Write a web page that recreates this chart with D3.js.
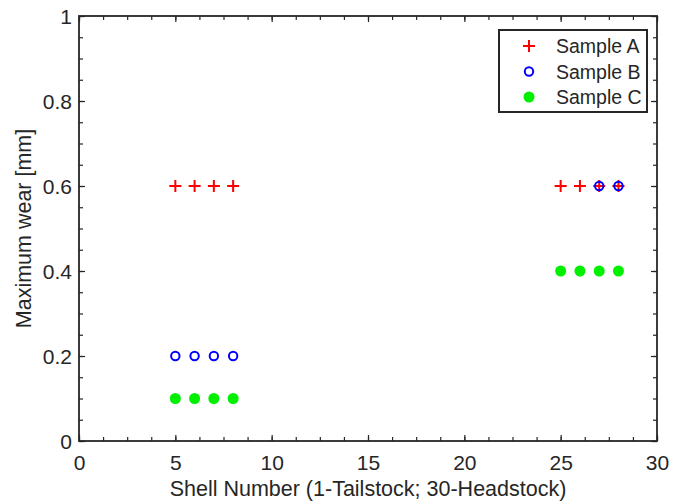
<!DOCTYPE html>
<html>
<head>
<meta charset="utf-8">
<script src="https://cdn.jsdelivr.net/npm/d3@7"></script>
<style>
  html, body { margin: 0; padding: 0; background: #fff; }
  svg { display: block; font-family: "Liberation Sans", Arial, sans-serif; }
</style>
</head>
<body>
<svg id="chart" width="673" height="501"></svg>
<script>
// Maximum wear per shell position for three samples
const shellsA = [5, 6, 7, 8, 25, 26, 27, 28];
const wearA   = [0.6, 0.6, 0.6, 0.6, 0.6, 0.6, 0.6, 0.6];
const shellsB = [5, 6, 7, 8, 27, 28];
const wearB   = [0.2, 0.2, 0.2, 0.2, 0.6, 0.6];
const shellsC = [5, 6, 7, 8, 25, 26, 27, 28];
const wearC   = [0.1, 0.1, 0.1, 0.1, 0.4, 0.4, 0.4, 0.4];

const xTicks = [0, 5, 10, 15, 20, 25, 30];
const yTicks = [0, 0.2, 0.4, 0.6, 0.8, 1];
const seriesNames = ["Sample A", "Sample B", "Sample C"];

const svg = d3.select("#chart");
const plotL = 79, plotR = 657, plotT = 16, plotB = 441;

const x = d3.scaleLinear().domain([0, 30]).range([plotL, plotR]);
const y = d3.scaleLinear().domain([0, 1]).range([plotB, plotT]);

const ink = "#262626";
const xMinor = d3.range(0, 30.001, 1.25);
const yMinor = d3.range(0, 1.001, 0.05);

// Inward ticks on all four sides
function tickAxis(axisFn, scale, values, size, fmt) {
  return axisFn(scale).tickValues(values).tickSizeInner(-size).tickSizeOuter(0).tickFormat(fmt);
}
const noLabel = () => "";

const gx = svg.append("g").attr("transform", `translate(0,${plotB})`)
  .call(tickAxis(d3.axisBottom, x, xTicks, 6, d3.format("d")));
svg.append("g").attr("transform", `translate(0,${plotB})`)
  .call(tickAxis(d3.axisBottom, x, xMinor, 4, noLabel));
svg.append("g").attr("transform", `translate(0,${plotT})`)
  .call(tickAxis(d3.axisTop, x, xTicks, 6, noLabel));
svg.append("g").attr("transform", `translate(0,${plotT})`)
  .call(tickAxis(d3.axisTop, x, xMinor, 4, noLabel));

const gy = svg.append("g").attr("transform", `translate(${plotL},0)`)
  .call(tickAxis(d3.axisLeft, y, yTicks, 6, d => d === 0 || d === 1 ? d3.format("d")(d) : d3.format(".1f")(d)));
svg.append("g").attr("transform", `translate(${plotL},0)`)
  .call(tickAxis(d3.axisLeft, y, yMinor, 4, noLabel));
svg.append("g").attr("transform", `translate(${plotR},0)`)
  .call(tickAxis(d3.axisRight, y, yTicks, 6, noLabel));
svg.append("g").attr("transform", `translate(${plotR},0)`)
  .call(tickAxis(d3.axisRight, y, yMinor, 4, noLabel));

svg.selectAll(".domain").remove();
svg.selectAll(".tick line").attr("stroke", ink).attr("stroke-width", 1.2);
gx.selectAll(".tick text").attr("font-size", 21).attr("fill", ink)
  .attr("y", 0).attr("dy", "1.36em");
gy.selectAll(".tick text").attr("font-size", 21).attr("fill", ink)
  .attr("x", -7).attr("dy", "0.36em");

// Plot box
svg.append("rect")
  .attr("x", plotL).attr("y", plotT)
  .attr("width", plotR - plotL).attr("height", plotB - plotT)
  .attr("fill", "none").attr("stroke", ink).attr("stroke-width", 1.8);

// Axis titles
svg.append("text")
  .attr("x", (plotL + plotR) / 2).attr("y", 496)
  .attr("text-anchor", "middle").attr("font-size", 21.5).attr("fill", ink)
  .text("Shell Number (1-Tailstock; 30-Headstock)");
svg.append("text")
  .attr("transform", `translate(31,${(plotT + plotB) / 2}) rotate(-90)`)
  .attr("text-anchor", "middle").attr("font-size", 21.5).attr("fill", ink)
  .text("Maximum wear [mm]");

// Marker painters
function drawPlus(g, cx, cy) {
  g.append("path")
    .attr("d", `M${cx - 6},${cy}H${cx + 6}M${cx},${cy - 6}V${cy + 6}`)
    .attr("stroke", "#ff0000").attr("stroke-width", 2).attr("fill", "none");
}
function drawRing(g, cx, cy) {
  g.append("circle").attr("cx", cx).attr("cy", cy).attr("r", 4.2)
    .attr("fill", "none").attr("stroke", "#0000ff").attr("stroke-width", 2);
}
function drawDot(g, cx, cy) {
  g.append("circle").attr("cx", cx).attr("cy", cy).attr("r", 5.5)
    .attr("fill", "#00f000").attr("stroke", "none");
}

const marks = svg.append("g");
shellsA.forEach((s, i) => drawPlus(marks, x(s), y(wearA[i])));
shellsB.forEach((s, i) => drawRing(marks, x(s), y(wearB[i])));
shellsC.forEach((s, i) => drawDot(marks, x(s), y(wearC[i])));

// Legend
const lg = svg.append("g");
lg.append("rect").attr("x", 499).attr("y", 30).attr("width", 148).attr("height", 82)
  .attr("fill", "#fff").attr("stroke", ink).attr("stroke-width", 2);
const painters = [drawPlus, drawRing, drawDot];
seriesNames.forEach((name, i) => {
  const ry = 46 + i * 25.5;
  painters[i](lg, 529, ry);
  lg.append("text").attr("x", 556).attr("y", ry).attr("dy", "0.36em")
    .attr("font-size", 19.5).attr("fill", ink).text(name);
});
</script>
</body>
</html>
